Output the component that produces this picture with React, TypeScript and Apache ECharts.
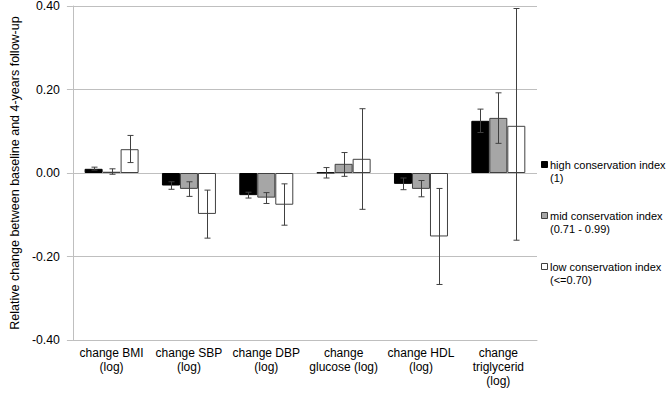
import React, { useEffect, useRef } from "react";
import * as echarts from "echarts";

const categories = [
  "change BMI\n(log)",
  "change SBP\n(log)",
  "change DBP\n(log)",
  "change\nglucose (log)",
  "change HDL\n(log)",
  "change\ntriglycerid\n(log)",
];
const seriesNames = [
  "high conservation index\n(1)",
  "mid conservation index\n(0.71 - 0.99)",
  "low conservation index\n(<=0.70)",
];
const highValues = [0.010, -0.030, -0.053, 0.001, -0.026, 0.125];
const highLower = [0.007, -0.039, -0.060, -0.012, -0.040, 0.097];
const highUpper = [0.014, -0.021, -0.046, 0.013, -0.012, 0.153];
const midValues = [0.003, -0.038, -0.059, 0.022, -0.038, 0.132];
const midLower = [-0.003, -0.056, -0.073, -0.008, -0.057, 0.071];
const midUpper = [0.010, -0.021, -0.047, 0.049, -0.018, 0.192];
const lowValues = [0.057, -0.098, -0.076, 0.034, -0.152, 0.113];
const lowLower = [0.025, -0.156, -0.125, -0.087, -0.267, -0.161];
const lowUpper = [0.090, -0.041, -0.026, 0.154, -0.037, 0.394];
const yTicks = [-0.4, -0.2, 0, 0.2, 0.4];

const FONT = "Liberation Sans";
const BAR_W = 18;
const fills = ["#000000", "#a6a6a6", "#ffffff"];
const borders = ["#000000", "#404040", "#404040"];

export default function App() {
  const ref = useRef<HTMLDivElement>(null);
  useEffect(() => {
    if (!ref.current) return;
    const chart = echarts.init(ref.current, null, { renderer: "svg" });
    const values = [highValues, midValues, lowValues];
    const lowers = [highLower, midLower, lowLower];
    const uppers = [highUpper, midUpper, lowUpper];

    const barSeries = values.map((v, i) => ({
      type: "bar",
      name: seriesNames[i],
      data: v,
      barWidth: BAR_W,
      barGap: "0%",
      itemStyle: { color: fills[i], borderColor: borders[i], borderWidth: 1 },
      z: 2,
    }));

    const errSeries = values.map((v, i) => ({
      type: "custom",
      name: "err" + i,
      data: v.map((_, k) => [k, lowers[i][k], uppers[i][k]]),
      z: 5,
      renderItem: (params: any, api: any) => {
        const k = api.value(0);
        const lo = api.coord([k, api.value(1)]);
        const hi = api.coord([k, api.value(2)]);
        const x = Math.round(lo[0] + (i - 1) * BAR_W) + 0.5;
        const cw = 3;
        const style = { stroke: "#404040", lineWidth: 1, fill: null };
        return {
          type: "group",
          children: [
            { type: "line", shape: { x1: x, y1: hi[1], x2: x, y2: lo[1] }, style },
            { type: "line", shape: { x1: x - cw, y1: hi[1], x2: x + cw, y2: hi[1] }, style },
            { type: "line", shape: { x1: x - cw, y1: lo[1], x2: x + cw, y2: lo[1] }, style },
          ],
        };
      },
    }));

    const legendGraphics: any[] = [];
    const legendTop = [158, 209, 260];
    seriesNames.forEach((n, i) => {
      const [l1, l2] = n.split("\n");
      legendGraphics.push({
        type: "rect",
        shape: { x: 541.5, y: legendTop[i] + 3.5, width: 6, height: 6 },
        style: { fill: fills[i], stroke: borders[i], lineWidth: 1 },
      });
      legendGraphics.push({
        type: "text",
        x: 550,
        y: legendTop[i],
        style: {
          text: l1 + "\n" + l2,
          font: `11px '${FONT}'`,
          fill: "#000",
          lineHeight: 13.5,
        },
      });
    });

    chart.setOption({
      animation: false,
      grid: { left: 62, right: 129, top: 6, bottom: 60, containLabel: false },
      xAxis: {
        type: "category",
        data: categories,
        axisLine: { onZero: false, lineStyle: { color: "#bfbfbf", width: 1 } },
        axisTick: { show: false },
        axisLabel: {
          interval: 0,
          color: "#000",
          fontFamily: FONT,
          fontSize: 12,
          lineHeight: 14,
          margin: 6,
        },
      },
      yAxis: {
        type: "value",
        min: -0.4,
        max: 0.4,
        interval: 0.2,
        name: "Relative change between baseline and 4-years follow-up",
        nameLocation: "middle",
        nameGap: 43,
        nameTextStyle: { color: "#000", fontFamily: FONT, fontSize: 12.5 },
        axisLine: { show: true, lineStyle: { color: "#bfbfbf", width: 1 } },
        axisTick: { show: true, length: 6, lineStyle: { color: "#bfbfbf" } },
        splitLine: { lineStyle: { color: "#bfbfbf", width: 1 } },
        axisLabel: {
          color: "#000",
          fontFamily: FONT,
          fontSize: 12.3,
          margin: 13,
          formatter: (v: number) => {
            const t = yTicks.find((x) => Math.abs(x - v) < 1e-9);
            return (t ?? v).toFixed(2);
          },
        },
      },
      series: [...barSeries, ...errSeries],
      graphic: legendGraphics,
    });
    return () => chart.dispose();
  }, []);
  return <div ref={ref} style={{ width: 666, height: 400, position: "absolute", left: 0, top: 0 }} />;
}
